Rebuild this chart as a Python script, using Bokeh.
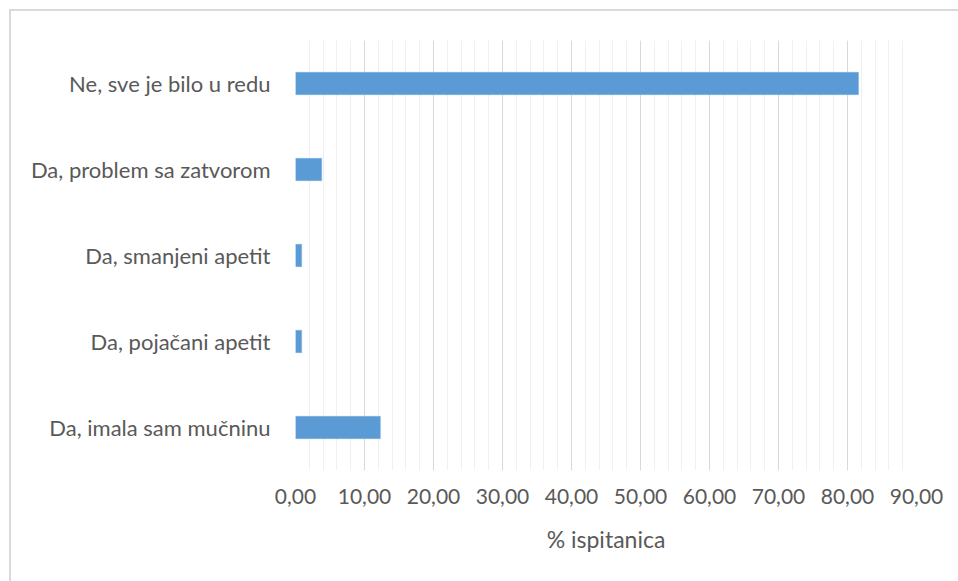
from bokeh.plotting import figure
from bokeh.models import CustomJSTickFormatter, SingleIntervalTicker, Range1d
from bokeh.embed import file_html
from bokeh.resources import INLINE

categories = ["Ne, sve je bilo u redu", "Da, problem sa zatvorom", "Da, smanjeni apetit",
              "Da, pojačani apetit", "Da, imala sam mučninu"]
values = [81.6, 3.8, 0.9, 0.9, 12.3]
x_label = "% ispitanica"

factors = list(reversed(categories))

p = figure(width=949, height=572, y_range=factors, x_range=Range1d(0, 90),
           output_backend="svg", toolbar_location=None,
           min_border_left=284, min_border_right=44, min_border_top=29, min_border_bottom=113)
p.margin = (9, 0, 0, 9)
p.styles = {"border-top": "2px solid #d9d9d9", "border-left": "2px solid #d9d9d9"}

p.hbar(y=categories, right=values, left=0, height=0.26, color="#5B9BD5", line_color="#7fb0de", line_width=0.5)

p.outline_line_color = None
p.background_fill_color = "white"
p.border_fill_color = "white"

p.xaxis.ticker = SingleIntervalTicker(interval=10, num_minor_ticks=5)
p.xaxis.formatter = CustomJSTickFormatter(code="return tick.toFixed(2).replace('.', ',');")
p.xaxis.axis_line_color = None
p.xaxis.major_tick_line_color = None
p.xaxis.minor_tick_line_color = None
p.xaxis.major_label_standoff = 12
p.xaxis.major_label_text_font = "Lato"
p.xaxis.major_label_text_font_size = "21px"
p.xaxis.major_label_text_color = "#595959"
p.xaxis.axis_label = x_label
p.xaxis.axis_label_text_font = "Lato"
p.xaxis.axis_label_text_font_style = "normal"
p.xaxis.axis_label_text_font_size = "23px"
p.xaxis.axis_label_text_color = "#595959"
p.xaxis.axis_label_standoff = 18

p.yaxis.axis_line_color = None
p.yaxis.major_tick_line_color = None
p.yaxis.minor_tick_line_color = None
p.yaxis.major_label_standoff = 19
p.yaxis.major_label_text_font = "Lato"
p.yaxis.major_label_text_font_size = "22px"
p.yaxis.major_label_text_color = "#595959"

p.xgrid.grid_line_color = "#d9d9d9"
p.xgrid.grid_line_width = 1
p.xgrid.minor_grid_line_color = "#f0f0f0"
p.xgrid.minor_grid_line_width = 1
p.ygrid.grid_line_color = None

open("out.html", "w").write(file_html(p, INLINE))
